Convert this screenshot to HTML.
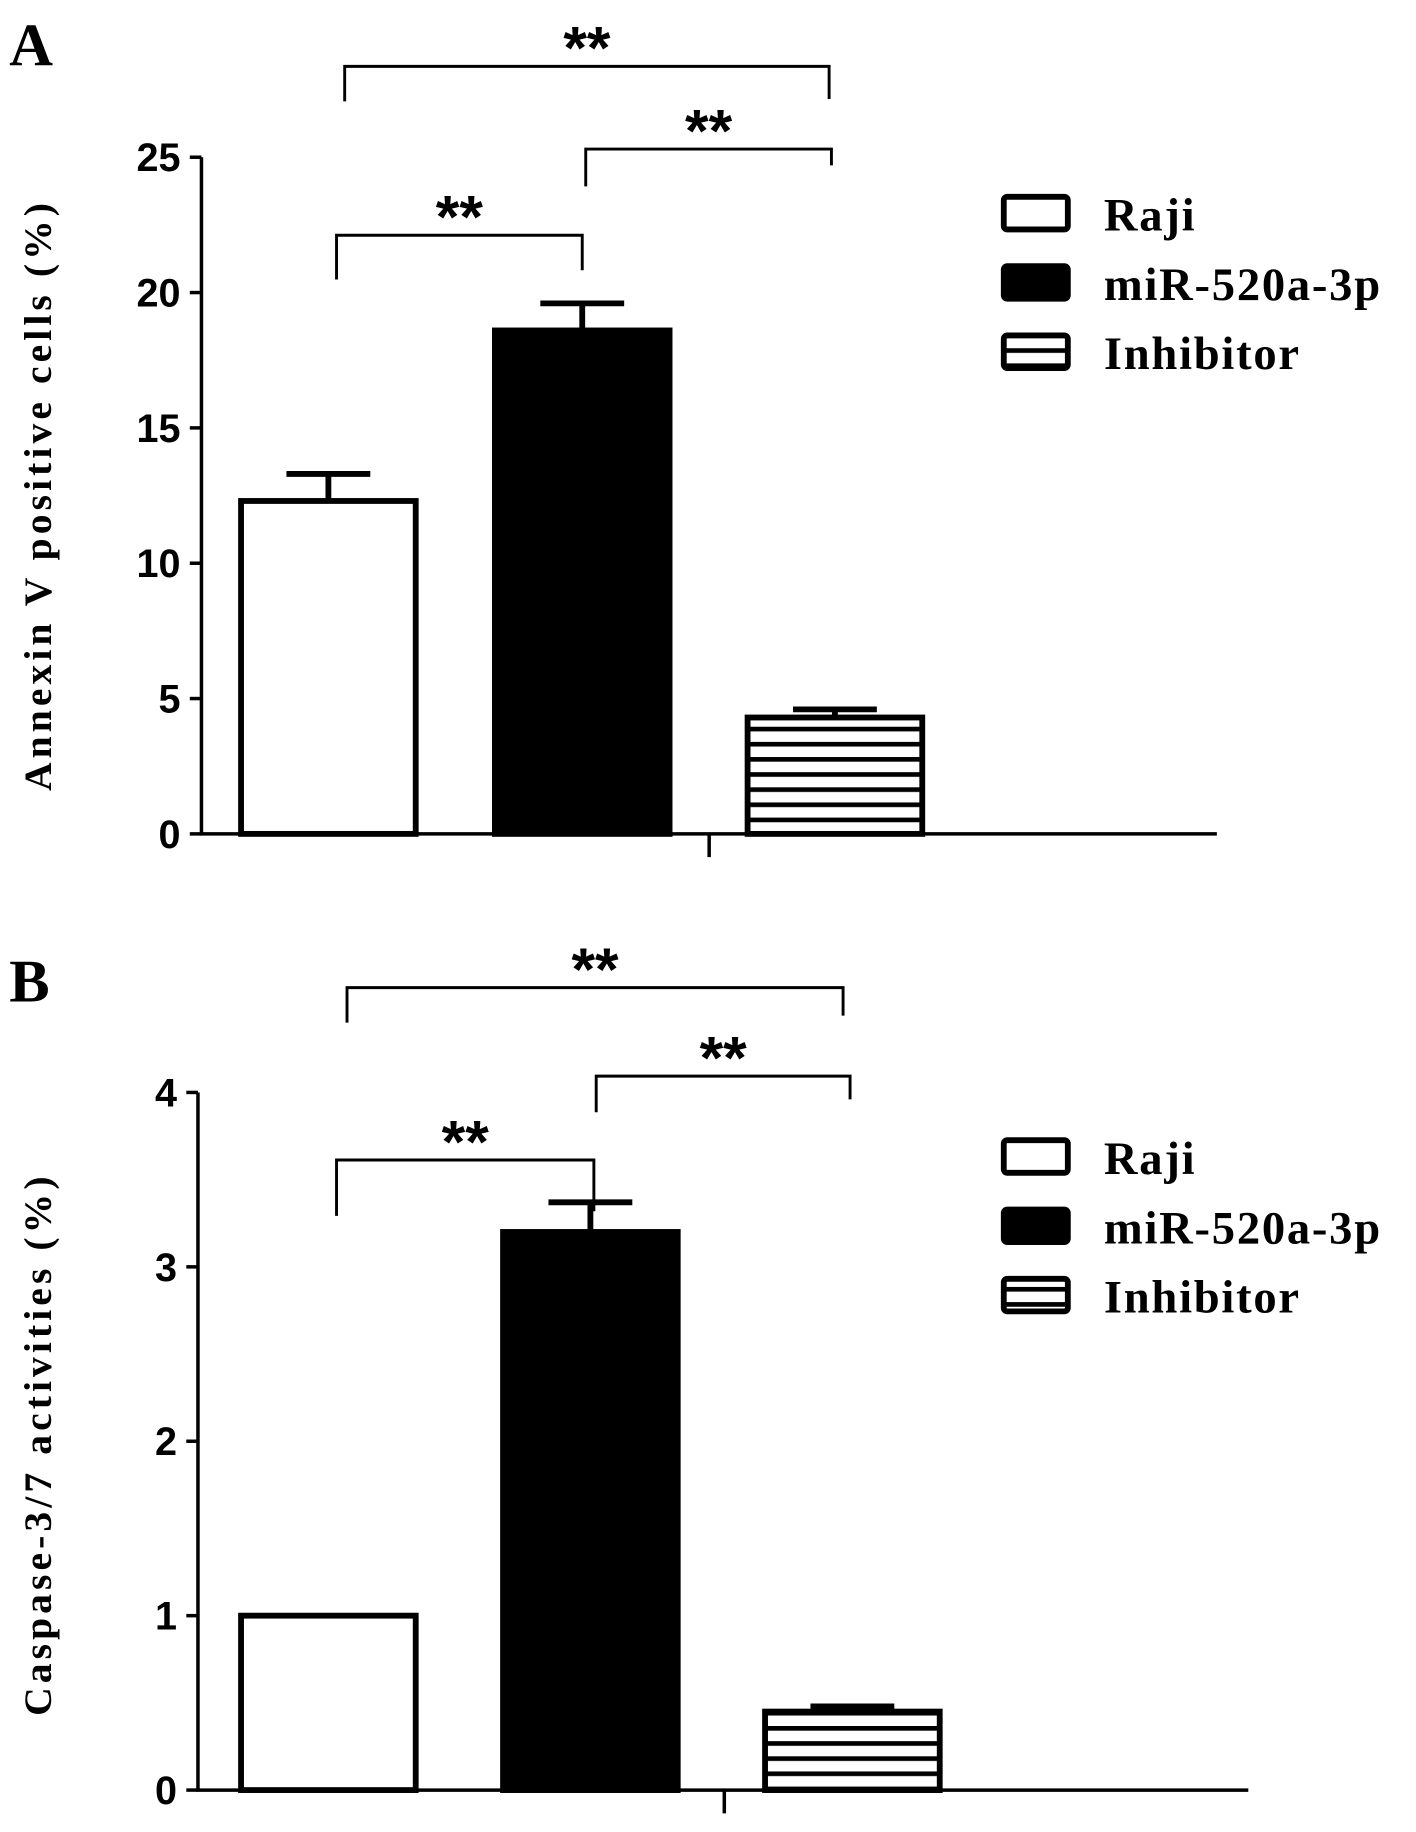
<!DOCTYPE html>
<html><head><meta charset="utf-8"><style>
html,body{margin:0;padding:0;background:#fff}
svg{display:block}
.tk{font:bold 34px "Liberation Sans",sans-serif}
.st{font:bold 52px "Liberation Sans",sans-serif}
.sr{font-family:"Liberation Serif",serif;font-weight:bold}
</style></head><body>
<svg id="chart" width="1416" height="1832" viewBox="0 0 1216 1573" preserveAspectRatio="none">
<defs>
<pattern id="hatch" patternUnits="userSpaceOnUse" width="10" height="13"><rect width="10" height="13" fill="#fff"/><rect y="0" width="10" height="4" fill="#000"/></pattern>
</defs>
</svg>
<script>
const categories=["Raji","miR-520a-3p","Inhibitor"];
const annexinValues=[12.3,18.6,4.3];
const annexinErrors=[1.0,1.0,0.3];
const annexinTicks=[0,5,10,15,20,25];
const caspaseValues=[1.0,3.2,0.45];
const caspaseErrors=[0,0.17,0.03];
const caspaseTicks=[0,1,2,3,4];
const NS="http://www.w3.org/2000/svg";
const svg=document.getElementById('chart');
function mk(t,a,p){const e=document.createElementNS(NS,t);for(const k in a)e.setAttribute(k,a[k]);(p||svg).appendChild(e);return e;}
function panel(cfg){
 const g=mk('g',{});
 
 
 const y=v=>cfg.y0-(v/cfg.max)*(cfg.y0-cfg.yTop);
 const lbl=mk('text',{x:8,y:cfg.letterY,class:'sr','font-size':52},g);lbl.textContent=cfg.letter;
 
 const ax=mk('path',{d:`M${cfg.ax},${cfg.yTop} V${cfg.y0} H${cfg.axEnd} M${cfg.midX},${cfg.y0} V${cfg.y0+20}`,stroke:'#000','stroke-width':3,fill:'none'},g);
 
 cfg.ticks.forEach(t=>{
  const yy=y(t);
  mk('line',{x1:cfg.ax-10,x2:cfg.ax,y1:yy,y2:yy,stroke:'#000','stroke-width':3},g);
  const tx=mk('text',{x:cfg.ax-18,y:yy+12,class:'tk','text-anchor':'end'},g);tx.textContent=t;
  
 });
 const yt=mk('text',{transform:`translate(44,${cfg.titleY}) rotate(-90)`,class:'sr','font-size':34,'text-anchor':'middle','letter-spacing':'3.5'},g);
 yt.textContent=cfg.title;
 const fills=['#fff','#000','url(#hatch)'];
 cfg.values.forEach((v,i)=>{
  const x=cfg.barX[i],w=150;
  const e=cfg.errors[i];
  if(e>0){const el=mk('path',{d:`M${x+w/2},${y(v)} V${y(v+e)} M${x+w/2-36},${y(v+e)} H${x+w/2+36}`,stroke:'#000','stroke-width':5,fill:'none'},g);
   }
  const r=mk('rect',{x:x,y:y(v),width:w,height:cfg.y0-y(v),fill:fills[i],stroke:'#000','stroke-width':5},g);
  
 });
 cfg.brackets.forEach(b=>{
  const p=mk('path',{d:`M${b[0]},${b[3]} V${b[2]} H${b[1]} V${b[4]}`,stroke:'#000','stroke-width':2.5,fill:'none'},g);
  
  const s=mk('text',{x:(b[0]+b[1])/2,y:b[2]+2,'text-anchor':'middle',class:'st'},g);s.textContent='**';
  
 });
 categories.forEach((c,i)=>{
  const yy=cfg.legY+i*59.5;
  const r=mk('rect',{x:862,y:yy,width:55,height:28,rx:3,fill:fills[i],stroke:'#000','stroke-width':5},g);
  
  const t=mk('text',{x:948,y:yy+29,class:'sr','font-size':40,'letter-spacing':'1.5'},g);t.textContent=c;
  
 });
}
panel({name:'panel-a-annexin',letter:'A',letterY:56,ax:173,axEnd:1045,midX:609,y0:716,yTop:135,max:25,ticks:annexinTicks,values:annexinValues,errors:annexinErrors,barX:[207,425,642],title:'Annexin V positive cells (%)',titleY:425,
 brackets:[[296,712,57,87,85],[503,714,128,160,142],[289,500,202,240,232]],legY:169});
panel({name:'panel-b-caspase',letter:'B',letterY:860,ax:170,axEnd:1072,midX:622,y0:1537,yTop:938,max:4,ticks:caspaseTicks,values:caspaseValues,errors:caspaseErrors,barX:[207,432,657],title:'Caspase-3/7 activities (%)',titleY:1240,
 brackets:[[298,724,848,878,872],[512,730,924,955,944],[289,510,996,1044,1040]],legY:979});
</script>
</body></html>
